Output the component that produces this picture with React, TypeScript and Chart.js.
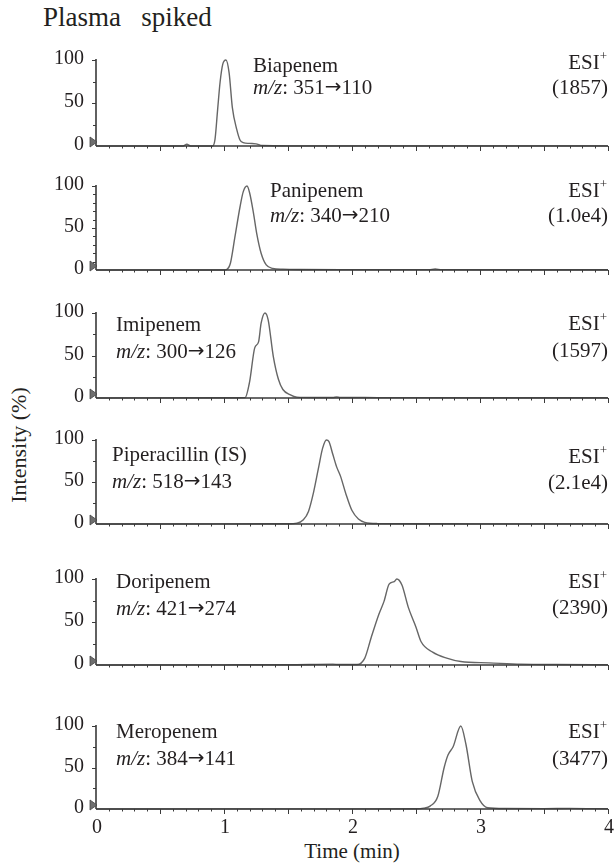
import React, { useEffect, useRef } from "react";
import { Chart, registerables } from "chart.js";

Chart.register(...registerables);

// ---------------- data ----------------
const compoundNames = ["Biapenem", "Panipenem", "Imipenem", "Piperacillin (IS)", "Doripenem", "Meropenem"];
const transitions = ["351→110", "340→210", "300→126", "518→143", "421→274", "384→141"];
const ionCounts = ["(1857)", "(1.0e4)", "(1597)", "(2.1e4)", "(2390)", "(3477)"];
const xTickLabels = ["0", "1", "2", "3", "4"];
const yTickLabels = ["0", "50", "100"];

const biapenemTime = [0, 0.5, 0.68, 0.71, 0.74, 0.85, 0.91, 0.93, 0.95, 0.97, 0.99, 1.015, 1.04, 1.065, 1.1, 1.125, 1.15, 1.2, 1.25, 1.3, 1.5, 2, 2.5, 3, 3.5, 4];
const biapenemIntensity = [0, 0, 0, 2, 0, 0, 0, 8, 42, 75, 95, 100, 85, 45, 19, 7, 4, 3, 2.5, 0.5, 0.2, 0.2, 0.2, 0.2, 0.2, 0.2];

const panipenemTime = [0, 1.0, 1.02, 1.05, 1.085, 1.125, 1.15, 1.18, 1.2, 1.23, 1.255, 1.29, 1.33, 1.38, 1.46, 1.6, 2.0, 2.6, 2.65, 2.7, 3.0, 4];
const panipenemIntensity = [0, 0, 0.5, 8, 39, 75, 93, 100, 92, 68, 44, 20, 6, 2, 1, 0.6, 0.4, 0.4, 1.2, 0.4, 0.3, 0.3];

const imipenemTime = [0, 1.0, 1.165, 1.2, 1.24, 1.27, 1.29, 1.32, 1.345, 1.385, 1.425, 1.46, 1.515, 1.57, 1.7, 1.85, 1.88, 1.91, 2.2, 2.5, 3, 4];
const imipenemIntensity = [0, 0.3, 0.5, 19, 59, 66, 88, 100, 92, 49, 22, 10, 4, 1, 0.6, 0.6, 1.2, 0.6, 0.5, 0.4, 0.3, 0.3];

const piperacillinTime = [0, 1.0, 1.5, 1.57, 1.62, 1.66, 1.7, 1.74, 1.77, 1.8, 1.82, 1.85, 1.88, 1.91, 1.95, 2.0, 2.05, 2.1, 2.2, 2.5, 3, 4];
const piperacillinIntensity = [0, 0.2, 0.3, 1, 5, 15, 38, 68, 90, 100, 98, 83, 68, 57, 37, 16, 6, 2, 0.5, 0.3, 0.2, 0.2];

const doripenemTime = [0, 1.0, 1.5, 1.85, 1.9, 2.04, 2.1, 2.15, 2.21, 2.25, 2.29, 2.33, 2.35, 2.39, 2.44, 2.5, 2.54, 2.63, 2.74, 2.85, 3.07, 3.32, 3.6, 4];
const doripenemIntensity = [0, 0.2, 0.3, 1, 0.5, 0.5, 8, 32, 59, 74, 94, 97, 100, 93, 67, 44, 27, 15, 8, 4, 2.5, 1, 0.5, 0.3];

const meropenemTime = [0, 1, 2, 2.5, 2.56, 2.61, 2.67, 2.72, 2.75, 2.79, 2.85, 2.89, 2.94, 3.0, 3.06, 3.2, 3.5, 3.7, 4];
const meropenemIntensity = [0, 0.2, 0.2, 0.3, 1, 3.5, 15, 50, 65, 75, 100, 78, 33, 10, 1.5, 0.6, 0.5, 0.8, 0.3];

const traceTimes = [biapenemTime, panipenemTime, imipenemTime, piperacillinTime, doripenemTime, meropenemTime];
const traceIntensities = [biapenemIntensity, panipenemIntensity, imipenemIntensity, piperacillinIntensity, doripenemIntensity, meropenemIntensity];

// ---------------- layout / style ----------------
const PAGE_W = 615;
const PAGE_H = 868;
const PLOT_LEFT = 96;
const PLOT_RIGHT = 608;
const panelZeroY = [146, 270, 398, 524, 665, 809];
const panelTopY = [60, 186, 313, 440, 579, 726];
const panelMinorStep = [25, 10, 25, 25, 25, 25];
const nameX = [253, 270, 116, 112, 116, 116];
const nameY = [66, 191, 325, 455, 582, 732];
const mzY = [88, 216, 352, 482, 609, 759];
const esiY = [63, 191, 324, 457, 582, 732];
const countY = [88, 216, 351, 483, 608, 759];

const SERIF = '"Liberation Serif", "Times New Roman", "DejaVu Serif", serif';
const ARROW_FONT = '"DejaVu Sans", sans-serif';
const TEXT_COLOR = "#231f20";
const AXIS_COLOR = "#3a3a3a";
const TRACE_COLOR = "#666666";

const decorPlugin = {
  id: "panelDecor",
  afterDatasetsDraw(chart: any, _args: any, opts: any) {
    const { ctx } = chart;
    const i: number = opts.index;
    const off: number = opts.canvasTop;
    const xs = chart.scales.x;
    const ys = chart.scales.y;
    const x0 = xs.getPixelForValue(0);
    const xEnd = xs.getPixelForValue(4);
    const y0 = ys.getPixelForValue(0);
    const yTop = ys.getPixelForValue(100);

    ctx.save();
    // axes lines
    ctx.strokeStyle = AXIS_COLOR;
    ctx.lineWidth = 1.6;
    ctx.beginPath();
    ctx.moveTo(x0, y0);
    ctx.lineTo(xEnd, y0);
    ctx.moveTo(x0, y0);
    ctx.lineTo(x0, yTop - 1);
    ctx.stroke();

    // x ticks
    ctx.lineWidth = 1;
    for (let k = 1; k <= 40; k++) {
      const px = Math.round(xs.getPixelForValue(k / 10)) + 0.5;
      const len = k % 5 === 0 ? 5 : 2.5;
      ctx.beginPath();
      ctx.moveTo(px, y0);
      ctx.lineTo(px, y0 + len);
      ctx.stroke();
    }
    // y ticks
    const step = panelMinorStep[i];
    for (let v = step; v <= 100; v += step) {
      const py = Math.round(ys.getPixelForValue(v)) + 0.5;
      const len = v % 50 === 0 ? 4 : 3;
      ctx.beginPath();
      ctx.moveTo(x0, py);
      ctx.lineTo(x0 - len, py);
      ctx.stroke();
    }

    // start marker
    ctx.fillStyle = "#6e6e6e";
    ctx.strokeStyle = "#444";
    ctx.lineWidth = 0.8;
    ctx.beginPath();
    ctx.moveTo(x0 - 6, y0 - 9);
    ctx.lineTo(x0 + 1, y0 - 4);
    ctx.lineTo(x0 - 6, y0 + 1);
    ctx.closePath();
    ctx.fill();
    ctx.stroke();

    // y labels
    ctx.fillStyle = TEXT_COLOR;
    ctx.font = `20px ${SERIF}`;
    ctx.textAlign = "right";
    ctx.textBaseline = "middle";
    yTickLabels.forEach((lab) => {
      const py = ys.getPixelForValue(Number(lab));
      ctx.fillText(lab, 84, py - 1);
    });

    // compound name
    ctx.textAlign = "left";
    ctx.font = `21px ${SERIF}`;
    ctx.fillText(compoundNames[i], nameX[i], nameY[i] - off);
    // m/z line
    let cx = nameX[i];
    const ly = mzY[i] - off;
    ctx.font = `italic 21px ${SERIF}`;
    ctx.fillText("m/z", cx, ly);
    cx += ctx.measureText("m/z").width;
    const [from, to] = transitions[i].split("→");
    ctx.font = `21px ${SERIF}`;
    ctx.fillText(": " + from, cx, ly);
    cx += ctx.measureText(": " + from).width;
    ctx.font = `20px ${ARROW_FONT}`;
    ctx.fillText("→", cx, ly);
    cx += ctx.measureText("→").width;
    ctx.font = `21px ${SERIF}`;
    ctx.fillText(to, cx, ly);

    // ESI+
    ctx.textAlign = "right";
    ctx.font = `13px ${SERIF}`;
    const plusW = ctx.measureText("+").width;
    ctx.fillText("+", 607, esiY[i] - off - 6);
    ctx.font = `21px ${SERIF}`;
    ctx.fillText("ESI", 607 - plusW, esiY[i] - off);
    ctx.fillText(ionCounts[i], 608, countY[i] - off);

    // x labels for bottom panel
    if (opts.showX) {
      ctx.textAlign = "center";
      ctx.font = `20px ${SERIF}`;
      xTickLabels.forEach((lab) => {
        ctx.fillText(lab, xs.getPixelForValue(Number(lab)) + 1, y0 + 19);
      });
    }
    ctx.restore();
  },
};

function Panel({ index }: { index: number }) {
  const ref = useRef<HTMLCanvasElement | null>(null);
  const last = index === traceTimes.length - 1;
  const canvasTop = panelTopY[index] - 25;
  const canvasH = last ? PAGE_H - canvasTop : panelZeroY[index] - panelTopY[index] + 50;

  useEffect(() => {
    if (!ref.current) return;
    const times = traceTimes[index];
    const vals = traceIntensities[index];
    const chart = new Chart(ref.current, {
      type: "line",
      data: {
        datasets: [
          {
            data: times.map((t, k) => ({ x: t, y: vals[k] })),
            borderColor: TRACE_COLOR,
            borderWidth: 1.4,
            pointRadius: 0,
            fill: false,
            cubicInterpolationMode: "monotone",
            clip: false,
          } as any,
        ],
      },
      options: {
        responsive: false,
        maintainAspectRatio: false,
        animation: false,
        layout: {
          padding: {
            left: PLOT_LEFT,
            right: PAGE_W - PLOT_RIGHT,
            top: panelTopY[index] - canvasTop,
            bottom: canvasTop + canvasH - panelZeroY[index],
          },
        },
        scales: {
          x: { type: "linear", min: 0, max: 4, display: false },
          y: { type: "linear", min: 0, max: 100, display: false },
        },
        plugins: {
          legend: { display: false },
          tooltip: { enabled: false },
          panelDecor: { index, canvasTop, showX: last },
        } as any,
      },
      plugins: [decorPlugin],
    });
    return () => chart.destroy();
  }, [index]);

  return (
    <canvas
      ref={ref}
      width={PAGE_W}
      height={canvasH}
      style={{ position: "absolute", left: 0, top: canvasTop, width: PAGE_W, height: canvasH }}
    />
  );
}

export default function App() {
  return (
    <div
      style={{
        position: "absolute",
        left: 0,
        top: 0,
        width: PAGE_W,
        height: PAGE_H,
        background: "#fff",
        overflow: "hidden",
        fontFamily: SERIF,
        color: TEXT_COLOR,
      }}
    >
      <div
        style={{
          position: "absolute",
          left: 43,
          top: 4,
          fontSize: 27,
          lineHeight: "27px",
          whiteSpace: "pre",
        }}
      >
        {"Plasma   spiked"}
      </div>
      <div
        style={{
          position: "absolute",
          left: 19 - 100,
          top: 445 - 12,
          width: 200,
          height: 24,
          lineHeight: "24px",
          fontSize: 22,
          textAlign: "center",
          transform: "rotate(-90deg)",
          whiteSpace: "nowrap",
        }}
      >
        Intensity (%)
      </div>
      <div
        style={{
          position: "absolute",
          left: 352 - 100,
          top: 851 - 12,
          width: 200,
          height: 24,
          lineHeight: "24px",
          fontSize: 21,
          textAlign: "center",
          whiteSpace: "nowrap",
        }}
      >
        Time (min)
      </div>
      {traceTimes.map((_, i) => (
        <Panel key={i} index={i} />
      ))}
    </div>
  );
}
